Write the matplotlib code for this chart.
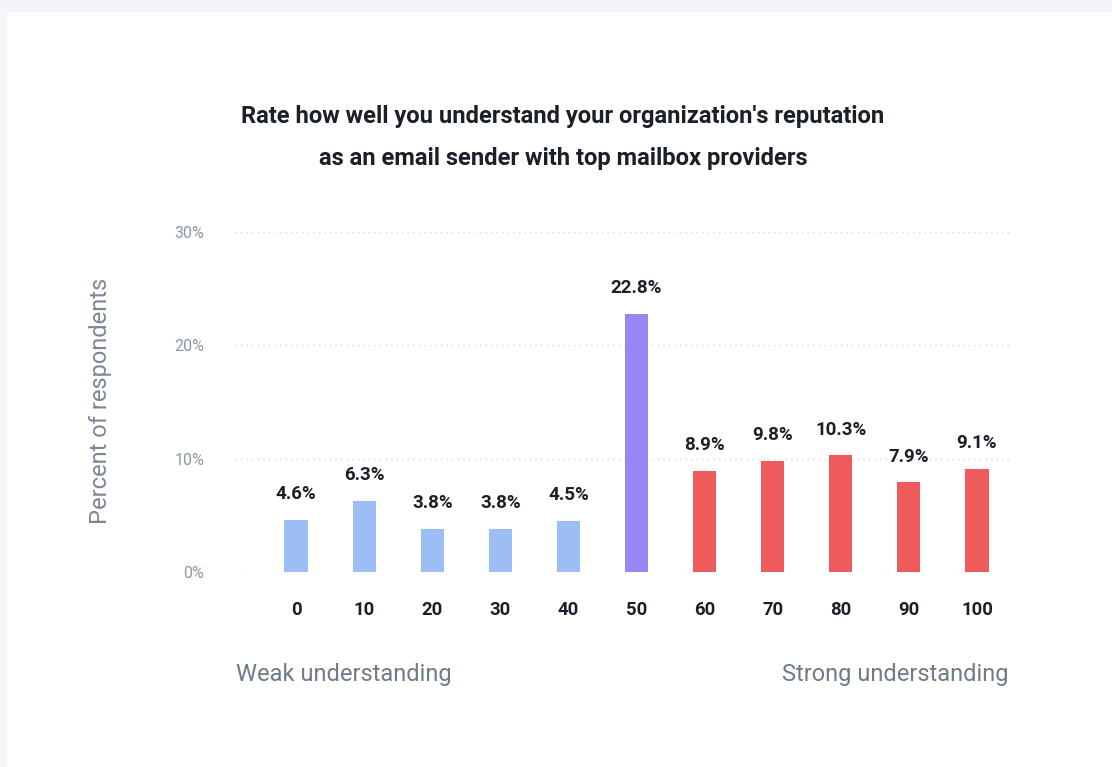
import matplotlib.pyplot as plt
from matplotlib.patches import Rectangle

# Survey data: share of respondents by self-rated understanding score
scores = ["0", "10", "20", "30", "40", "50", "60", "70", "80", "90", "100"]
percent = [4.6, 6.3, 3.8, 3.8, 4.5, 22.8, 8.9, 9.8, 10.3, 7.9, 9.1]
bar_colors = ["#9dbef5"] * 5 + ["#9787f3"] + ["#ef5a5c"] * 5
y_ticks = [0, 10, 20, 30]
y_tick_labels = ["0%", "10%", "20%", "30%"]

plt.rcParams["font.family"] = ["Roboto", "DejaVu Sans"]

W, H = 1112, 767
fig = plt.figure(figsize=(W / 100, H / 100), dpi=100)
fig.patch.set_facecolor("#f4f5f8")
# white card
fig.add_artist(Rectangle((7 / W, 0), 1, 1 - 12 / H, transform=fig.transFigure,
                         facecolor="white", edgecolor="none", zorder=0))

ax = fig.add_axes([235 / W, 195 / H, 775 / W, 340 / H])
ax.set_facecolor("none")
x = list(range(len(scores)))
bars = ax.bar(x, percent, width=0.34, color=bar_colors, zorder=3)
for xi, v in zip(x, percent):
    ax.annotate(f"{v}%", (xi, v), xytext=(0, 12), textcoords="offset points",
                ha="center", va="bottom", fontsize=13.5, fontweight="bold",
                color="#1b1f27", annotation_clip=False)

ax.set_xlim(-0.896, 10.485)
ax.set_ylim(0, 30)
ax.set_yticks(y_ticks)
ax.set_yticklabels(y_tick_labels)
ax.set_xticks(x)
ax.set_xticklabels(scores)
for lab in ax.get_xticklabels():
    lab.set_fontweight("bold")
    lab.set_fontsize(13.3)
    lab.set_color("#1b1f27")
for lab in ax.get_yticklabels():
    lab.set_fontsize(11.5)
    lab.set_color("#8d97a3")
ax.tick_params(axis="x", length=0, pad=21)
ax.tick_params(axis="y", length=0, pad=22)
for s in ax.spines.values():
    s.set_visible(False)
ax.grid(axis="y", linestyle=(0, (1, 3)), color="#d5dae0", linewidth=1, zorder=0)

fig.text(100 / W, 1 - 401 / H, "Percent of respondents", rotation=90,
         ha="center", va="center", fontsize=17, color="#7d8895")

fig.text(236 / W, 1 - 674 / H, "Weak understanding", ha="left", va="center",
         fontsize=17, color="#6f7b88")
fig.text(1008 / W, 1 - 674 / H, "Strong understanding", ha="right", va="center",
         fontsize=17, color="#6f7b88")

fig.text(563 / W, 1 - 116 / H, "Rate how well you understand your organization's reputation",
         ha="center", va="center", fontsize=17.1, fontweight="bold", color="#1b1f27")
fig.text(563 / W, 1 - 158 / H, "as an email sender with top mailbox providers",
         ha="center", va="center", fontsize=17.1, fontweight="bold", color="#1b1f27")

fig.savefig("out.png", dpi=100, facecolor=fig.get_facecolor())
